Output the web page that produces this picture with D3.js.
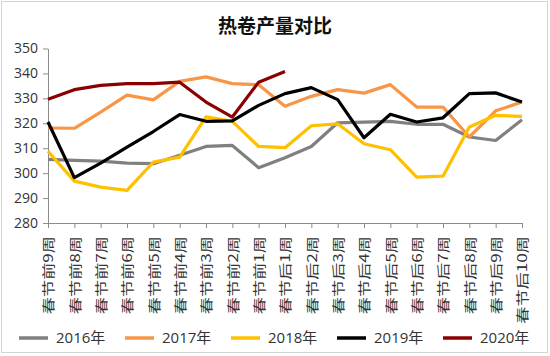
<!DOCTYPE html>
<html><head><meta charset="utf-8">
<script src="https://cdn.jsdelivr.net/npm/d3@7"></script>
<style>
html,body{margin:0;padding:0;background:#fff;}
svg{display:block;}
</style></head>
<body>
<svg id="c" width="550" height="356"></svg>
<script>
const categories = ["春节前9周","春节前8周","春节前7周","春节前6周","春节前5周","春节前4周","春节前3周","春节前2周","春节前1周",
  "春节后1周","春节后2周","春节后3周","春节后4周","春节后5周","春节后6周","春节后7周","春节后8周","春节后9周","春节后10周"];
const seriesNames = ["2016年","2017年","2018年","2019年","2020年"];
const s2016 = [305.5,305.1,304.8,304.0,303.8,307.2,310.7,311.1,302.2,306.2,310.7,320.2,320.5,320.8,319.6,319.6,314.5,313.1,321.4];
const s2017 = [318.1,318.0,324.5,331.3,329.4,336.8,338.6,335.9,335.5,326.8,330.8,333.5,332.1,335.5,326.5,326.5,314.5,325.0,328.5];
const s2018 = [308.8,296.8,294.4,293.1,304.4,306.4,322.6,320.8,310.7,310.2,319.0,319.8,311.8,309.4,298.4,298.8,318.5,323.2,322.8];
const s2019 = [320.5,298.2,304.0,310.4,316.7,323.5,320.8,321.0,327.2,331.9,334.3,329.5,314.2,323.6,320.5,322.2,331.9,332.2,328.5];
const s2020 = [329.6,333.5,335.2,335.9,335.9,336.5,328.5,322.5,336.5,340.8];
const yTicks = [280,290,300,310,320,330,340,350];
const colors = ["#808080","#f79646","#ffc000","#000000","#8b0000"];
const allSeries = [s2016,s2017,s2018,s2019,s2020];

const svg = d3.select("#c");
svg.append("rect").attr("x",1.5).attr("y",1.5).attr("width",546).attr("height",351)
  .attr("fill","#fff").attr("stroke","#d4d4d4");

svg.append("text").attr("x",275).attr("y",33).attr("text-anchor","middle")
  .attr("font-family","'Noto Sans CJK SC'").attr("font-weight","bold").attr("font-size",19)
  .attr("fill","#111").text("热卷产量对比");

const x = d3.scalePoint().domain(categories).range([48,522]);
const y = d3.scaleLinear().domain([280,350]).range([223,48.5]);

const gy = svg.append("g").attr("transform","translate(48,0)")
  .call(d3.axisLeft(y).tickValues(yTicks).tickSize(5).tickSizeOuter(0).tickPadding(5));
gy.selectAll("text").attr("font-family","'Open Sans'").attr("font-size",14).attr("fill","#333");
gy.selectAll("line,path").attr("stroke","#8c8c8c");

const gx = svg.append("g").attr("transform","translate(0,223)")
  .call(d3.axisBottom(x).tickSize(5).tickSizeOuter(0));
gx.selectAll("line,path").attr("stroke","#8c8c8c");
gx.selectAll("text")
  .attr("font-family","'Noto Sans CJK SC'").attr("font-size",13).attr("fill","#333")
  .attr("text-anchor","end").attr("dy","0.36em")
  .attr("transform","translate(0,13) rotate(-90) scale(1.32,1)")
  .attr("x",0).attr("y",0);

const line = d3.line().x((d,i)=>x(categories[i])).y(d=>y(d));
allSeries.forEach((s,k)=>{
  svg.append("path").datum(s).attr("d",line).attr("fill","none")
    .attr("stroke",colors[k]).attr("stroke-width",3.2)
    .attr("stroke-linejoin","round").attr("stroke-linecap","butt");
});

const lg = svg.append("g");
seriesNames.forEach((n,k)=>{
  const x0 = 19 + k*106;
  lg.append("line").attr("x1",x0).attr("x2",x0+29).attr("y1",338).attr("y2",338)
    .attr("stroke",colors[k]).attr("stroke-width",3.5);
  lg.append("text").attr("x",x0+37).attr("y",338).attr("dy","0.35em")
    .attr("font-family","'Open Sans','Noto Sans CJK SC'").attr("font-size",15).attr("fill","#333").text(n);
});
</script>
</body></html>
